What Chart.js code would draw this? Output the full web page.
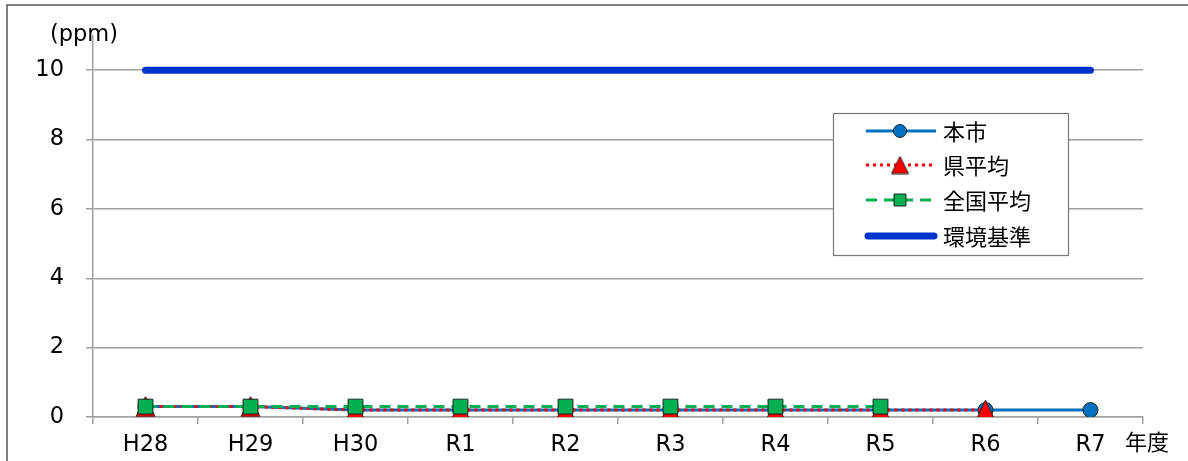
<!DOCTYPE html>
<html>
<head>
<meta charset="utf-8">
<script src="https://cdn.jsdelivr.net/npm/chart.js@4.4.1/dist/chart.umd.min.js"></script>
<style>
html,body{margin:0;padding:0;background:#fff;}
#wrap{width:1188px;height:461px;position:relative;}
</style>
</head>
<body>
<div id="wrap"><canvas id="c" width="1188" height="461"></canvas></div>
<script>
const categories = ['H28','H29','H30','R1','R2','R3','R4','R5','R6','R7'];
const cityValues = [0.3,0.3,0.2,0.2,0.2,0.2,0.2,0.2,0.2,0.2];
const prefValues = [0.3,0.3,0.2,0.2,0.2,0.2,0.2,0.2,0.2,null];
const nationValues = [0.3,0.3,0.3,0.3,0.3,0.3,0.3,0.3,null,null];
const standardValues = [10,10,10,10,10,10,10,10,10,10];
const seriesNames = ['本市','県平均','全国平均','環境基準'];
const yTicks = [0,2,4,6,8,10];
const yUnit = '(ppm)';
const xUnit = '年度';

const FONT = '"DejaVu Sans", "Noto Sans CJK JP", sans-serif';
const JFONT = '"Noto Sans CJK JP", "Noto Sans", sans-serif';
const GRID = '#a0a0a0';

function makeTriangle(w, h){
  const c = document.createElement('canvas');
  c.width = w + 2; c.height = h + 2;
  const g = c.getContext('2d');
  g.beginPath();
  g.moveTo(c.width/2, 1);
  g.lineTo(w + 1, h + 1);
  g.lineTo(1, h + 1);
  g.closePath();
  g.fillStyle = '#FF0000';
  g.fill();
  g.strokeStyle = '#222';
  g.lineWidth = 1;
  g.stroke();
  return c;
}
const triBig = makeTriangle(19, 20);
const triSmall = makeTriangle(17, 17);

const styles = [
  {color:'#0070C0', fill:'#0070C0', dash:[], width:3, point:'circle', r:7.5},
  {color:'#FF0000', fill:'#FF0000', dash:[3,4], width:3, point:triBig, r:10},
  {color:'#00B050', fill:'#00B050', dash:[11,7], width:3, point:'rect', r:10.5},
  {color:'#0033CC', fill:'#0033CC', dash:[], width:7, point:false, r:0}
];

const extras = {
  id:'extras',
  beforeDraw(chart){
    const ctx = chart.ctx;
    ctx.save();
    ctx.fillStyle = '#fff';
    ctx.fillRect(0,0,chart.width,chart.height);
    ctx.strokeStyle = '#555';
    ctx.lineWidth = 1.5;
    ctx.beginPath();
    ctx.moveTo(7,461); ctx.lineTo(7,5); ctx.lineTo(1188,5);
    ctx.stroke();
    ctx.restore();
  },
  afterDraw(chart){
    const ctx = chart.ctx;
    ctx.save();
    ctx.fillStyle = '#000';
    ctx.textBaseline = 'middle';
    ctx.textAlign = 'left';
    ctx.font = '22.5px ' + FONT;
    ctx.fillText(yUnit, 50, 35);
    ctx.font = '22px ' + JFONT;
    ctx.fillText(xUnit, 1125, 442);
    // legend
    const bx=833, by=113, bw=235, bh=142;
    ctx.fillStyle='#fff';
    ctx.fillRect(bx,by,bw,bh);
    ctx.strokeStyle='#777';
    ctx.lineWidth=1.2;
    ctx.strokeRect(bx+0.5,by+0.5,bw,bh);
    const rows=[131,165,200,236];
    rows.forEach((y,i)=>{
      const s=styles[i];
      ctx.save();
      ctx.strokeStyle=s.color;
      ctx.lineWidth=s.width;
      ctx.setLineDash(s.dash);
      ctx.lineCap = i===3 ? 'round' : 'butt';
      ctx.beginPath();
      const x0 = i===3 ? 868 : 866, x1 = i===3 ? 934 : 936;
      ctx.moveTo(x0,y); ctx.lineTo(x1,y); ctx.stroke();
      ctx.restore();
      ctx.save();
      ctx.fillStyle=s.fill;
      ctx.strokeStyle='#222';
      ctx.lineWidth=1;
      if(i===0){
        Chart.helpers.drawPoint(ctx,{pointStyle:'circle', radius:6.5, borderWidth:1},900,y);
      } else if(i===1){
        ctx.drawImage(triSmall, 900 - triSmall.width/2, y - triSmall.height/2);
      } else if(i===2){
        Chart.helpers.drawPoint(ctx,{pointStyle:'rect', radius:8.5, borderWidth:1},900,y);
      }
      ctx.restore();
      ctx.fillStyle='#000';
      ctx.font='22px '+JFONT;
      ctx.textBaseline='middle';
      ctx.fillText(seriesNames[i],943,y+1);
    });
    ctx.restore();
  }
};

function ds(i, data, order){
  const s=styles[i];
  return {
    label: seriesNames[i],
    data: data,
    borderColor: s.color,
    backgroundColor: s.fill,
    borderWidth: s.width,
    borderDash: s.dash,
    borderCapStyle: i===3 ? 'round' : 'butt',
    pointStyle: s.point || 'circle',
    pointRadius: s.point ? s.r : 0,
    pointHoverRadius: s.point ? s.r : 0,
    pointBackgroundColor: s.fill,
    pointBorderColor: '#222',
    pointBorderWidth: 1,
    tension: 0,
    spanGaps: false,
    order: order
  };
}

new Chart(document.getElementById('c'), {
  type:'line',
  data:{
    labels: categories,
    datasets:[
      ds(0, cityValues, 3),
      ds(1, prefValues, 2),
      ds(2, nationValues, 1),
      ds(3, standardValues, 4)
    ]
  },
  options:{
    responsive:false,
    animation:false,
    devicePixelRatio:1,
    layout:{padding:{left:0,right:45,top:34,bottom:0}},
    plugins:{legend:{display:false}, tooltip:{enabled:false}},
    scales:{
      x:{
        offset:true,
        grid:{display:true, drawOnChartArea:false, offset:true, color:GRID, lineWidth:1.5, tickLength:7},
        border:{color:GRID, width:1.5},
        ticks:{color:'#000', font:{family:FONT, size:22.5}, padding:8, maxRotation:0},
        afterFit(scale){ scale.height = 44; }
      },
      y:{
        min:0, max:11,
        afterBuildTicks(scale){ scale.ticks = yTicks.map(v=>({value:v})); },
        grid:{color:GRID, lineWidth:1.5, tickLength:7},
        border:{color:GRID, width:1.5},
        ticks:{color:'#000', font:{family:FONT, size:22.5}, padding:22},
        afterFit(scale){ scale.width = 93; }
      }
    }
  },
  plugins:[extras]
});
</script>
</body>
</html>
